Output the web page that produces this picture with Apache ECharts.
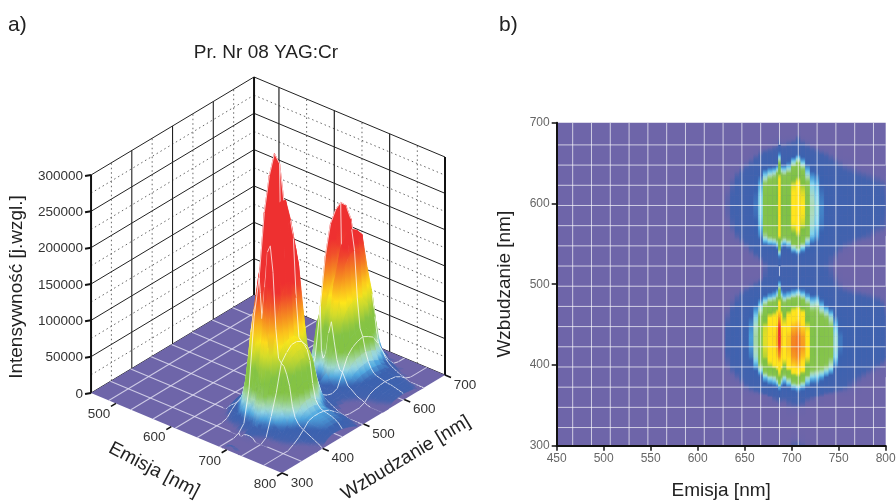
<!DOCTYPE html>
<html><head><meta charset="utf-8">
<style>html,body{margin:0;padding:0;background:#fff;overflow:hidden}#c{width:896px;height:502px}</style>
<script src="https://cdn.jsdelivr.net/npm/echarts@6/dist/echarts.min.js"></script>
</head><body><div id="c"></div>
<script>
// ---------- DATA (intensity in thousands) ----------
const emissionCols=[622,627,632,637,642,647,652,657,662,667,672,677,682,685,687,689,692,697,702,707,712,717,722,727,732,737,742,747,752,757,762,767,772,777,782,787,792,797,800];
const excitationRows=[300,310,322.5,335,347.5,360,372.5,385,397.5,410,422.5,435,447.5,460,472.5,485,497.5,510,522.5,535,547.5,560,572.5,585,597.5,610,622.5,635,647.5,660,672.5,685,697.5];
const intensity=[
[0,0,0,0,0,0,0,0,0,0,0,0,0,0,0,0,0,3,7,8,6,3],
[0,0,0,0,0,0,0,0,0,0,0,0,0,0,0,0,0,0,3,3,2],
[],
[],
[0,0,0,0,0,0,0,0,0,0,0,0,0,0,3,0,0,4,5,5,4],
[0,0,0,0,0,0,0,0,0,0,0,4,8,10,12,10,9,10,12,14,12,9,7,5,3],
[0,0,0,0,0,2,6,9,12,16,24,28,32,38,55,36,30,38,52,60,50,38,28,30,22,18,15,12,10,8,6,4,2],
[0,0,0,3,6,10,13,16,22,32,58,70,75,95,150,90,70,90,130,140,115,75,60,58,50,38,30,20,16,13,10,9,7,5,3,2],
[0,0,5,9,12,16,20,30,48,78,120,150,165,185,200,180,145,190,240,250,215,140,100,95,92,82,68,42,28,22,18,16,14,12,10,8,6,4,2],
[0,2,8,13,16,20,26,42,68,100,160,195,215,245,285,235,185,240,280,288,255,175,115,105,105,100,88,60,38,30,26,24,22,20,19,17,15,11,9],
[0,3,10,15,18,22,28,48,75,105,168,225,238,262,332,250,195,252,295,302,280,195,118,112,110,105,95,66,42,33,28,26,25,24,23,21,19,15,12],
[0,3,10,15,18,22,28,50,76,105,170,228,240,265,358,252,195,250,292,300,275,190,118,112,110,105,95,66,42,33,28,26,25,24,23,21,19,15,12],
[0,2,9,14,17,21,27,46,72,100,165,222,232,250,340,235,180,225,260,268,245,165,112,108,105,100,86,56,36,30,26,25,24,23,22,20,18,14,11],
[0,1,6,11,14,18,24,38,60,88,130,170,180,200,275,190,150,185,215,225,205,135,100,98,92,82,66,40,28,24,23,22,21,20,19,18,16,12,9],
[0,0,3,7,10,14,18,28,42,62,90,110,115,135,210,125,105,125,145,155,130,95,75,78,58,42,30,22,18,17,16,16,15,15,14,13,12,9,6],
[0,0,0,3,6,9,12,16,22,30,42,52,58,75,130,70,55,62,72,80,68,52,42,44,30,24,18,14,12,11,10,9,9,8,7,6,5,3,2],
[0,0,0,0,0,2,4,6,9,12,15,18,20,28,65,26,20,22,25,28,24,20,17,18,15,12,10,8,6,4,3,2,1],
[0,0,0,0,0,0,0,0,0,2,8,10,12,14,20,14,13,14,15,16,15,14,13,13,12,10,8,5,2],
[0,0,0,0,0,0,0,0,0,0,6,9,10,12,22,13,12,13,14,15,14,13,12,11,10,8,6,3],
[0,0,0,0,0,0,0,3,6,9,11,12,13,15,45,16,14,16,22,28,22,16,14,14,12,10,8,6,3,1],
[0,0,0,0,0,3,6,10,16,24,34,38,40,52,110,50,40,48,78,95,70,46,34,32,24,16,14,11,8,6,5,3,1],
[0,0,0,3,7,10,13,17,28,45,78,92,98,115,175,108,95,108,140,155,122,88,58,50,36,26,20,16,14,12,11,10,9,8,7,5,3,2],
[0,0,3,7,11,14,16,21,36,55,100,115,120,140,215,135,115,128,172,192,162,106,68,58,42,30,23,18,16,15,14,13,13,12,11,10,9,8,7],
[0,0,5,9,13,15,17,23,40,60,112,124,128,148,230,145,122,136,185,202,175,112,72,62,44,32,24,19,17,16,15,14,14,13,12,11,10,9,8],
[0,0,6,10,14,16,18,24,42,62,118,128,132,150,236,146,125,138,188,205,178,114,74,64,45,33,25,20,18,17,16,15,14,14,13,12,11,10,9],
[0,0,5,9,13,15,17,23,40,60,110,122,126,146,228,142,120,132,182,200,172,110,70,60,42,30,24,19,17,16,15,14,13,13,12,11,10,9,8],
[0,0,3,7,11,14,16,21,36,52,92,108,112,135,205,128,110,122,168,190,155,98,62,55,38,26,22,18,16,15,14,13,12,12,11,10,9,8,7],
[0,0,0,3,7,10,13,16,24,38,60,72,78,100,160,95,86,98,128,140,108,68,46,42,28,20,16,14,12,11,10,9,8,7,6,5,4,2,1],
[0,0,0,0,0,3,6,9,13,18,24,28,30,38,100,36,38,48,78,100,70,40,26,26,18,14,11,9,7,5,4,3,1],
[0,0,0,0,0,0,0,2,5,8,11,12,13,15,50,15,15,18,28,40,26,15,12,11,9,7,5,3,1],
[0,0,0,0,0,0,0,0,0,0,0,2,4,5,12,6,6,8,10,13,9,6,4,2],
[0,0,0,0,0,0,0,0,0,0,0,0,0,0,0,0,0,0,0,4],
[]
];
const meshEmission=[467,487,507,527,547,567,587,607,627,647,667,687,707,727,747,767,787];
const meshExcitation=[322.5,347.5,372.5,397.5,422.5,447.5,472.5,497.5,522.5,547.5,572.5,597.5,622.5,647.5,672.5];
const meshEmission3d=[487,527,567,607,647,687,727,767];
const meshExcitation3d=[347.5,397.5,447.5,497.5,547.5,597.5,647.5];
const intensityTicks=[0,50000,100000,150000,200000,250000,300000];
const intensityMinor=[25000,75000,125000,175000,225000,275000];
const emissionTicks3d=[500,600,700,800];
const emissionMinor3d=[550,650,750];
const excitationTicks3d=[300,400,500,600,700];
const excitationMinor3d=[350,450,550,650];

// ---------- colour scales ----------
const heatScale=[[0,'#6e65a9'],[4,'#6a65aa'],[9,'#4262ae'],[38,'#3a62b0'],[50,'#4aa0dc'],[60,'#7fd2ec'],[72,'#acdcc0'],[88,'#88c54e'],[148,'#7cc043'],[165,'#d0da2c'],[178,'#ffe61c'],[235,'#ffe01c'],[290,'#f58a20'],[345,'#ee3030'],[500,'#ee3030']];
const surfScale=[[0,'#6e65a9'],[3,'#6a65aa'],[7,'#4262ae'],[17,'#3a62b0'],[26,'#4fa8e0'],[34,'#96d6e4'],[42,'#a8dab0'],[55,'#84c344'],[80,'#84c344'],[100,'#c9d92e'],[118,'#ffe61a'],[150,'#f58c20'],[185,'#ee3030'],[500,'#ee3030']];
const hex=h=>[1,3,5].map(k=>parseInt(h.substr(k,2),16));
function colorOf(scale,v){
  for(let k=1;k<scale.length;k++){
    if(v<=scale[k][0]){
      const t=(v-scale[k-1][0])/(scale[k][0]-scale[k-1][0]);
      const a=hex(scale[k-1][1]),b=hex(scale[k][1]);
      return 'rgb('+a.map((c,n)=>Math.round(c+(b[n]-c)*t)).join(',')+')';
    }
  }
  return scale[scale.length-1][1];
}
function shade(scale,a,b){
  const stops=[0,.2,.4,.6,.8,1].map(t=>({offset:t,color:colorOf(scale,a+(b-a)*t)}));
  return new echarts.graphic.LinearGradient(0,0,0,1,stops);
}
const Z=(i,j)=>intensity[i][j]||0;

// ---------- oblique projection of the 3-D box ----------
const E0=455,E1=800,X0=300,X1=700;
function P(e,x,kz){
  return [282+(e-E1)*0.5535+(x-X0)*0.4075, 473+(e-E1)*0.2319-(x-X0)*0.245-kz*0.7267];
}
const INK='#111', GREY='#222';
function seg(a,b,stroke,w,dash){
  return {type:'line',shape:{x1:a[0],y1:a[1],x2:b[0],y2:b[1]},style:{stroke:stroke,lineWidth:w,lineDash:dash||null}};
}
function txt(p,s,font,fill,align,rot){
  return {type:'text',x:p[0],y:p[1],rotation:rot||0,style:{text:s,font:font,fill:fill,align:align||'center',verticalAlign:'middle'}};
}
const FONT='"Liberation Sans",Arial,sans-serif';
const tickFont='13.5px '+FONT, tickCol='#333';

const wallData=[];
intensityMinor.forEach(v=>wallData.push([1,v]));
excitationMinor3d.forEach(v=>wallData.push([3,v]));
emissionMinor3d.forEach(v=>wallData.push([5,v]));
intensityTicks.forEach(v=>wallData.push([0,v]));
excitationTicks3d.forEach(v=>wallData.push([2,v]));
emissionTicks3d.forEach(v=>wallData.push([4,v]));
function renderWall(params,api){
  const k=api.value(0),v=api.value(1),ch=[];
  const dot=[1.5,3];
  if(k===0||k===1){
    const kz=v/1000,s=k===1;
    const a=P(E0,X0,kz),b=P(E0,X1,kz),c=P(E1,X1,kz);
    ch.push(seg(a,b,s?'#555':GREY,s?0.9:1,s?dot:null),seg(b,c,s?'#555':GREY,s?0.9:1,s?dot:null));
    if(k===0){
      ch.push(seg([a[0]-6,a[1]+1],a,INK,2));
      ch.push(txt([a[0]-8,a[1]+1],String(v),tickFont,tickCol,'right'));
    }
  } else if(k===2||k===3){
    if(v>X0&&v<X1){
      const s=k===3;
      ch.push(seg(P(E0,v,0),P(E0,v,300),s?'#555':GREY,s?0.9:1.1,s?dot:null));
    }
  } else {
    if(v<E1){
      const s=k===5;
      ch.push(seg(P(v,X1,0),P(v,X1,300),s?'#555':GREY,s?0.9:1.2,s?dot:null));
    }
  }
  return {type:'group',children:ch};
}
function renderFrame(){
  const ch=[];
  ch.push(seg(P(E0,X0,0),P(E0,X0,300),INK,2));
  ch.push(seg(P(E0,X1,0),P(E0,X1,300),INK,2));
  ch.push(seg(P(E1,X1,0),P(E1,X1,300),INK,2));
  return {type:'group',children:ch};
}
function renderFloor(){
  const a=P(E0,X0,0),b=P(E0,X1,0),c=P(E1,X1,0),d=P(E1,X0,0);
  const ch=[{type:'polygon',shape:{points:[a,b,c,d]},style:{fill:'#6e65a9'}}];
  const st='rgba(222,220,240,0.85)';
  meshEmission3d.forEach(e=>ch.push(seg(P(e,X0,0),P(e,X1,0),st,1.1)));
  meshExcitation3d.forEach(x=>ch.push(seg(P(E0,x,0),P(E1,x,0),st,1.1)));
  return {type:'group',children:ch};
}
const surfCells=[];
for(let i=excitationRows.length-2;i>=0;i--){
  for(let j=0;j<emissionCols.length-1;j++){
    surfCells.push([j,i,Z(i,j)]);
  }
}
function renderSurf(params,api){
  const j=api.value(0),i=api.value(1);
  const e0=emissionCols[j],e1=emissionCols[j+1],x0=excitationRows[i],x1=excitationRows[i+1];
  const zs=[Z(i,j),Z(i,j+1),Z(i+1,j+1),Z(i+1,j)];
  if(Math.max.apply(null,zs)===0) return null;
  const pts=[P(e0,x0,zs[0]),P(e1,x0,zs[1]),P(e1,x1,zs[2]),P(e0,x1,zs[3])];
  let t=0,b=0;
  pts.forEach((p,n)=>{if(p[1]<pts[t][1])t=n;if(p[1]>pts[b][1])b=n;});
  const g=shade(surfScale,zs[t],zs[b]);
  const ch=[{type:'polygon',shape:{points:pts},style:{fill:g,stroke:g,lineWidth:0.6}}];
  const st='rgba(255,255,255,0.82)';
  if(meshEmission3d.indexOf(e0)>=0) ch.push(seg(pts[0],pts[3],st,0.9));
  if(meshExcitation3d.indexOf(x1)>=0) ch.push(seg(pts[3],pts[2],st,0.9));
  return {type:'group',children:ch};
}
const floorTickData=emissionTicks3d.map(v=>[0,v]).concat(excitationTicks3d.map(v=>[1,v]));
function renderFloorTicks(params,api){
  const k=api.value(0),v=api.value(1);
  if(k===0){
    const p=P(v,X0,0);
    return {type:'group',children:[seg(p,[p[0]-5,p[1]+3],INK,1.6),txt([p[0]-17,p[1]+11],String(v),tickFont,tickCol)]};
  }
  const p=P(E1,v,0);
  return {type:'group',children:[seg(p,[p[0]+6,p[1]+2.5],INK,1.6),txt([p[0]+20,p[1]+10],String(v),tickFont,tickCol)]};
}
const heatCells=[];
for(let i=0;i<excitationRows.length-1;i++){
  for(let j=0;j<emissionCols.length;j++){
    heatCells.push([j,i,Z(i,j)]);
  }
}
function renderHeat(params,api){
  const j=api.value(0),i=api.value(1);
  const a=Z(i+1,j),b=Z(i,j);
  if(a===0&&b===0) return null;
  const e=emissionCols;
  const l=j>0?(e[j-1]+e[j])/2:e[j]-2.5, r=j<e.length-1?(e[j]+e[j+1])/2:e[j];
  const p0=api.coord([l,excitationRows[i+1]]),p1=api.coord([r,excitationRows[i]]);
  const g=shade(heatScale,a,b);
  return {type:'rect',shape:{x:p0[0],y:p0[1],width:p1[0]-p0[0],height:p1[1]-p0[1]},style:{fill:g,stroke:g,lineWidth:0.4}};
}
const meshOnHeat=meshEmission.map(v=>[0,v]).concat(meshExcitation.map(v=>[1,v]));
function renderHeatMesh(params,api){
  const k=api.value(0),v=api.value(1);
  const a=k===0?api.coord([v,300]):api.coord([450,v]);
  const b=k===0?api.coord([v,700]):api.coord([800,v]);
  return seg(a,b,'rgba(255,255,255,0.68)',1);
}
const streakCells=heatCells.filter(c=>emissionCols[c[0]]===687&&(c[2]>=25||Z(c[1]+1,c[0])>=25));

const option={
  animation:false,
  backgroundColor:'#fff',
  title:[
    {text:'a)',left:3,top:10,textStyle:{fontFamily:FONT,fontWeight:'normal',fontSize:21,color:'#222'}},
    {text:'b)',left:494,top:10,textStyle:{fontFamily:FONT,fontWeight:'normal',fontSize:21,color:'#222'}},
    {text:'Pr. Nr 08 YAG:Cr',left:261,top:38,textAlign:'center',textStyle:{fontFamily:FONT,fontWeight:'normal',fontSize:19,color:'#222'}}
  ],
  graphic:[
    {type:'text',x:17,y:287,rotation:Math.PI/2,style:{text:'Intensywność [j.wzgl.]',font:'19px '+FONT,fill:'#222',align:'center',verticalAlign:'middle'}},
    {type:'text',x:154,y:470,rotation:-27.5*Math.PI/180,style:{text:'Emisja [nm]',font:'19px '+FONT,fill:'#222',align:'center',verticalAlign:'middle'}},
    {type:'text',x:406,y:458,rotation:31*Math.PI/180,style:{text:'Wzbudzanie [nm]',font:'19px '+FONT,fill:'#222',align:'center',verticalAlign:'middle'}}
  ],
  grid:{left:556.7,top:122.7,width:329,height:323,show:true,backgroundColor:'#6e65a9',borderWidth:0,outerBoundsMode:'none',containLabel:false},
  xAxis:{type:'value',min:450,max:800,interval:50,name:'Emisja [nm]',nameLocation:'middle',nameGap:36,
    nameTextStyle:{fontFamily:FONT,fontSize:19,color:'#222'},
    axisLine:{show:true,lineStyle:{color:'#111',width:2}},axisTick:{show:true,length:5,lineStyle:{color:'#111',width:1.5}},
    axisLabel:{fontFamily:FONT,fontSize:12,color:'#666',margin:7,showMinLabel:true,showMaxLabel:true},splitLine:{show:false},z:5},
  yAxis:{type:'value',min:300,max:700,interval:100,name:'Wzbudzanie [nm]',nameLocation:'middle',nameGap:42,
    nameTextStyle:{fontFamily:FONT,fontSize:19,color:'#222'},
    axisLine:{show:true,lineStyle:{color:'#111',width:2}},axisTick:{show:true,length:5,lineStyle:{color:'#111',width:1.5}},
    axisLabel:{fontFamily:FONT,fontSize:12,color:'#666',margin:7},splitLine:{show:false},z:5},
  series:[
    {type:'custom',coordinateSystem:'none',data:wallData,renderItem:renderWall,silent:true,clip:false,progressive:0},
    {type:'custom',coordinateSystem:'none',data:[[0]],renderItem:renderFrame,silent:true,clip:false},
    {type:'custom',coordinateSystem:'none',data:[[0]],renderItem:renderFloor,silent:true,clip:false},
    {type:'custom',coordinateSystem:'none',data:surfCells,renderItem:renderSurf,silent:true,clip:false,progressive:0},
    {type:'custom',coordinateSystem:'none',data:floorTickData,renderItem:renderFloorTicks,silent:true,clip:false,z:4},
    {type:'custom',coordinateSystem:'cartesian2d',data:heatCells,renderItem:renderHeat,silent:true,clip:true,progressive:0,encode:{x:-1,y:-1}},
    {type:'custom',coordinateSystem:'cartesian2d',data:meshOnHeat,renderItem:renderHeatMesh,silent:true,clip:true,encode:{x:-1,y:-1}},
    {type:'custom',coordinateSystem:'cartesian2d',data:streakCells,renderItem:renderHeat,silent:true,clip:true,encode:{x:-1,y:-1}}
  ]
};
const chart=echarts.init(document.getElementById('c'),null,{renderer:'canvas'});
chart.setOption(option);
</script></body></html>
